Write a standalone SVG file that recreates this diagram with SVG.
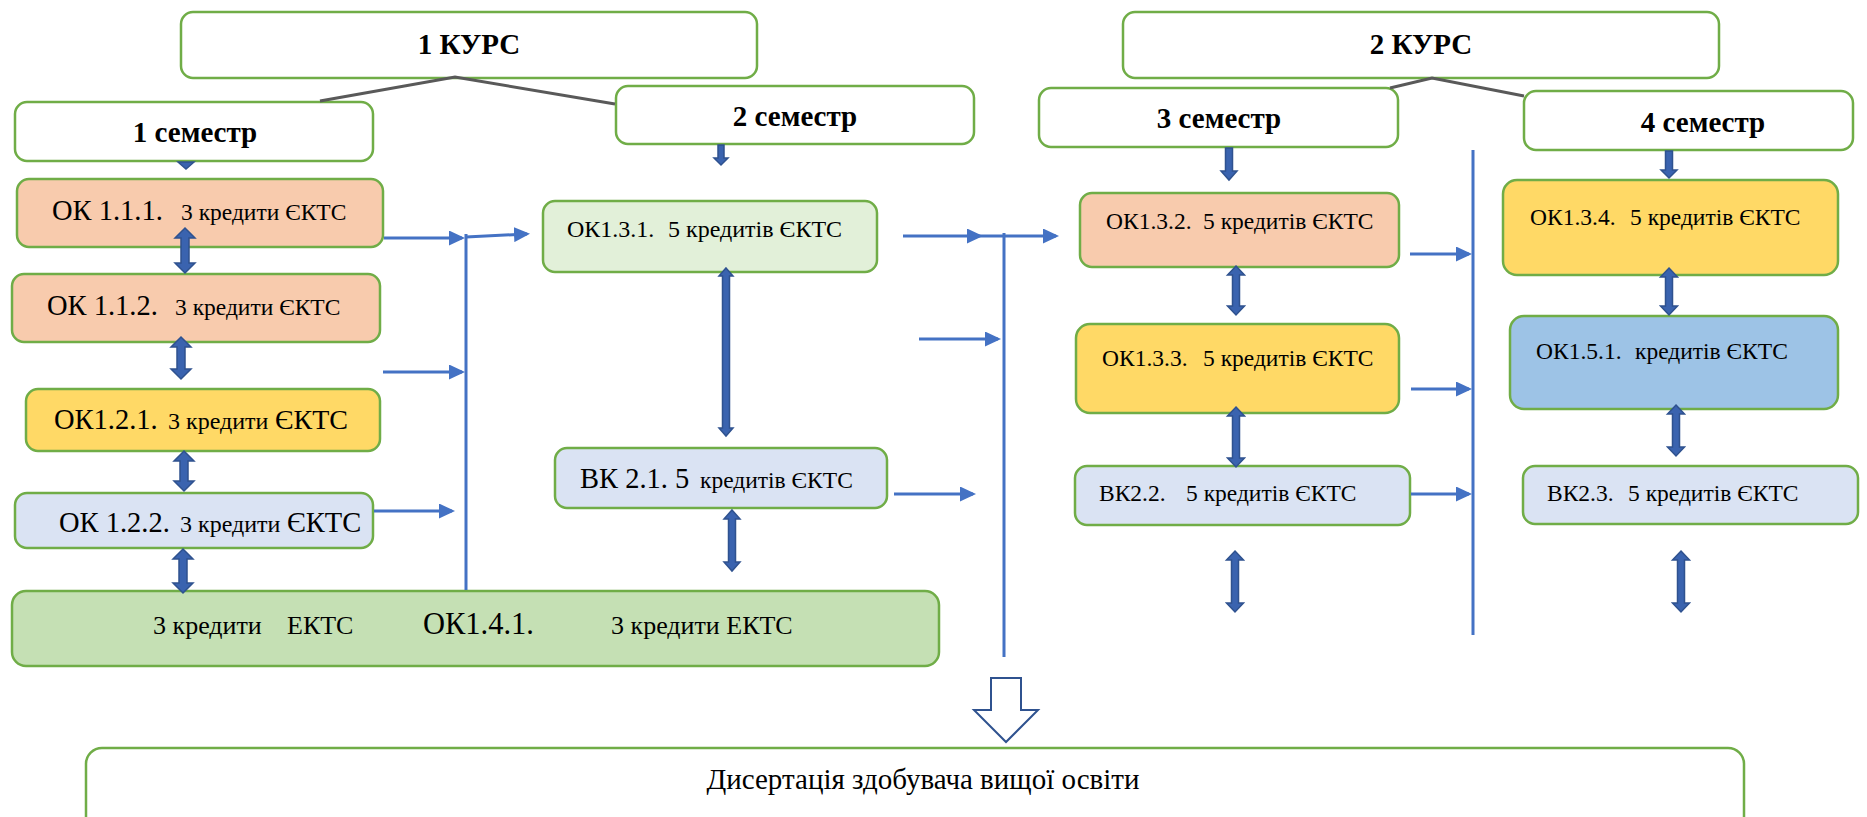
<svg xmlns="http://www.w3.org/2000/svg" width="1867" height="817" viewBox="0 0 1867 817">
<style>
.box{stroke:#70AD47;stroke-width:2.5}
.w{fill:#FFFFFF}.pk{fill:#F8CBAD}.yl{fill:#FFD966}.lb{fill:#DAE3F3}.gr{fill:#C5E0B4}.lg{fill:#E2F0D9}.bl{fill:#9DC3E6}
text{font-family:"Liberation Serif","Times New Roman",serif;fill:#000}
.h{font-weight:bold;font-size:29px;text-anchor:middle}
.tree{stroke:#595959;stroke-width:3;fill:none}
.con{stroke:#4472C4;stroke-width:3;fill:none}
.arr{marker-end:url(#ah)}
.dbl{fill:#3A63AF;stroke:#2F528F;stroke-width:1.5}
.hollow{fill:#FFFFFF;stroke:#2F528F;stroke-width:2}
</style>
<defs>
<marker id="ah" markerUnits="userSpaceOnUse" markerWidth="16" markerHeight="15" refX="13" refY="7.5" orient="auto">
<path d="M0,0 L16,7.5 L0,15 Z" fill="#4472C4"/>
</marker>
</defs>
<rect width="1867" height="817" fill="#FFFFFF"/>

<g id="kurs1"><rect class="box w" x="181" y="12" width="576" height="66" rx="12"/><text class="h" x="469" y="54">1 КУРС</text></g>
<g id="kurs2"><rect class="box w" x="1123" y="12" width="596" height="66" rx="12"/><text class="h" x="1421" y="54">2 КУРС</text></g>
<g id="sem1"><rect class="box w" x="15" y="102" width="358" height="59" rx="12"/><text class="h" x="195" y="142">1 семестр</text></g>
<g id="sem2"><rect class="box w" x="616" y="86" width="358" height="58" rx="12"/><text class="h" x="795" y="126">2 семестр</text></g>
<g id="sem3"><rect class="box w" x="1039" y="88" width="359" height="59" rx="12"/><text class="h" x="1219" y="128">3 семестр</text></g>
<g id="sem4"><rect class="box w" x="1524" y="91" width="329" height="59" rx="12"/><text class="h" x="1703" y="132">4 семестр</text></g>

<g id="ok111"><rect class="box pk" x="17" y="179" width="366" height="68" rx="12"/>
<text y="220"><tspan x="52" font-size="28.5">ОК 1.1.1.</tspan><tspan x="181" font-size="23.5">3 кредити ЄКТС</tspan></text></g>
<g id="ok112"><rect class="box pk" x="12" y="274" width="368" height="68" rx="12"/>
<text y="315"><tspan x="47" font-size="28.5">ОК 1.1.2.</tspan><tspan x="175" font-size="23.5">3 кредити ЄКТС</tspan></text></g>
<g id="ok121"><rect class="box yl" x="26" y="389" width="354" height="62" rx="12"/>
<text y="429"><tspan x="54" font-size="28.5">ОК1.2.1.</tspan><tspan x="168" font-size="24">3 кредити</tspan><tspan x="275" font-size="28">ЄКТС</tspan></text></g>
<g id="ok122"><rect class="box lb" x="15" y="493" width="358" height="55" rx="12"/>
<text y="532"><tspan x="59" font-size="28.5">ОК 1.2.2.</tspan><tspan x="180" font-size="24">3 кредити</tspan><tspan x="287" font-size="28.5">ЄКТС</tspan></text></g>
<g id="ok141"><rect class="box gr" x="12" y="591" width="927" height="75" rx="14"/>
<text y="634"><tspan x="153" font-size="26">3 кредити</tspan><tspan x="287" font-size="26">ЕКТС</tspan><tspan x="423" font-size="30.5">ОК1.4.1.</tspan><tspan x="611" font-size="26">3 кредити ЕКТС</tspan></text></g>

<g id="ok131"><rect class="box lg" x="543" y="201" width="334" height="71" rx="12"/>
<text y="237" font-size="24"><tspan x="567">ОК1.3.1.</tspan><tspan x="668">5 кредитів ЄКТС</tspan></text></g>
<g id="vk21"><rect class="box lb" x="555" y="448" width="332" height="60" rx="12"/>
<text y="488"><tspan x="580" font-size="28.5">ВК 2.1. 5</tspan><tspan x="700" font-size="23.5">кредитів ЄКТС</tspan></text></g>

<g id="ok132"><rect class="box pk" x="1080" y="193" width="319" height="74" rx="12"/>
<text y="229" font-size="23.5"><tspan x="1106">ОК1.3.2.</tspan><tspan x="1203">5 кредитів ЄКТС</tspan></text></g>
<g id="ok133"><rect class="box yl" x="1076" y="324" width="323" height="89" rx="14"/>
<text y="366" font-size="23.5"><tspan x="1102">ОК1.3.3.</tspan><tspan x="1203">5 кредитів ЄКТС</tspan></text></g>
<g id="vk22"><rect class="box lb" x="1075" y="466" width="335" height="59" rx="12"/>
<text y="501" font-size="23.5"><tspan x="1099">ВК2.2.</tspan><tspan x="1186">5 кредитів ЄКТС</tspan></text></g>

<g id="ok134"><rect class="box yl" x="1503" y="180" width="335" height="95" rx="14"/>
<text y="225" font-size="23.5"><tspan x="1530">ОК1.3.4.</tspan><tspan x="1630">5 кредитів ЄКТС</tspan></text></g>
<g id="ok151"><rect class="box bl" x="1510" y="316" width="328" height="93" rx="14"/>
<text y="359" font-size="23.5"><tspan x="1536">ОК1.5.1.</tspan><tspan x="1635">кредитів ЄКТС</tspan></text></g>
<g id="vk23"><rect class="box lb" x="1523" y="466" width="335" height="58" rx="12"/>
<text y="501" font-size="23.5"><tspan x="1547">ВК2.3.</tspan><tspan x="1628">5 кредитів ЄКТС</tspan></text></g>

<g id="dissertation"><rect class="box w" x="86" y="748" width="1658" height="95" rx="16"/>
<text x="923" y="789" font-size="29" text-anchor="middle">Дисертація здобувача вищої освіти</text></g>

<g id="connectors">
<polyline class="tree" points="320,101 455,77 615,104"/>
<polyline class="tree" points="1390,88 1432,78 1524,96"/>
<line class="con arr" x1="384" y1="238" x2="462" y2="238"/>
<line class="con" x1="466" y1="234" x2="466" y2="590"/>
<line class="con arr" x1="466" y1="237" x2="527" y2="234"/>
<line class="con arr" x1="383" y1="372" x2="462" y2="372"/>
<line class="con arr" x1="374" y1="511" x2="452" y2="511"/>
<line class="con arr" x1="903" y1="236" x2="980" y2="236"/>
<line class="con arr" x1="980" y1="236" x2="1056" y2="236"/>
<line class="con arr" x1="919" y1="339" x2="998" y2="339"/>
<line class="con arr" x1="894" y1="494" x2="973" y2="494"/>
<line class="con" x1="1004" y1="233" x2="1004" y2="657"/>
<line class="con arr" x1="1410" y1="254" x2="1469" y2="254"/>
<line class="con arr" x1="1411" y1="389" x2="1469" y2="389"/>
<line class="con arr" x1="1411" y1="494" x2="1469" y2="494"/>
<line class="con" x1="1473" y1="150" x2="1473" y2="635"/>
<path class="dbl" d="M183,162 H189 V162 H194 L186,169 L178,162 H183 Z"/>
<path class="dbl" d="M718,145 H724 V158 H728 L721,165 L714,158 H718 Z"/>
<path class="dbl" d="M1225.5,148 H1232.5 V171 H1237 L1229,180 L1221,171 H1225.5 Z"/>
<path class="dbl" d="M1665.5,151 H1672.5 V170 H1677 L1669,178 L1661,170 H1665.5 Z"/>
<path class="dbl" d="M185,228 L195,238 H189 V263 H195 L185,273 L175,263 H181 V238 H175 Z"/>
<path class="dbl" d="M181,337 L191,347 H185 V369 H191 L181,379 L171,369 H177 V347 H171 Z"/>
<path class="dbl" d="M184,451 L194,461 H188 V481 H194 L184,491 L174,481 H180 V461 H174 Z"/>
<path class="dbl" d="M183,549 L193,559 H187 V583 H193 L183,593 L173,583 H179 V559 H173 Z"/>
<path class="dbl" d="M726,268 L733,276 H729.5 V428 H733 L726,436 L719,428 H722.5 V276 H719 Z"/>
<path class="dbl" d="M732,510 L740,519 H735.5 V562 H740 L732,571 L724,562 H728.5 V519 H724 Z"/>
<path class="dbl" d="M1236,266 L1244.5,275 H1239.5 V306 H1244.5 L1236,315 L1227.5,306 H1232.5 V275 H1227.5 Z"/>
<path class="dbl" d="M1236,407 L1244.5,416 H1239.5 V458 H1244.5 L1236,467 L1227.5,458 H1232.5 V416 H1227.5 Z"/>
<path class="dbl" d="M1235,551 L1243.5,560 H1238.5 V603 H1243.5 L1235,612 L1226.5,603 H1231.5 V560 H1226.5 Z"/>
<path class="dbl" d="M1669,268 L1677.5,277 H1672.5 V306 H1677.5 L1669,315 L1660.5,306 H1665.5 V277 H1660.5 Z"/>
<path class="dbl" d="M1676,405 L1684.5,414 H1679.5 V447 H1684.5 L1676,456 L1667.5,447 H1672.5 V414 H1667.5 Z"/>
<path class="dbl" d="M1681,551 L1689.5,560 H1684.5 V603 H1689.5 L1681,612 L1672.5,603 H1677.5 V560 H1672.5 Z"/>
<path class="hollow" d="M991,678 H1021 V710 H1038 L1006,742 L974,710 H991 Z"/>
</g>
</svg>
